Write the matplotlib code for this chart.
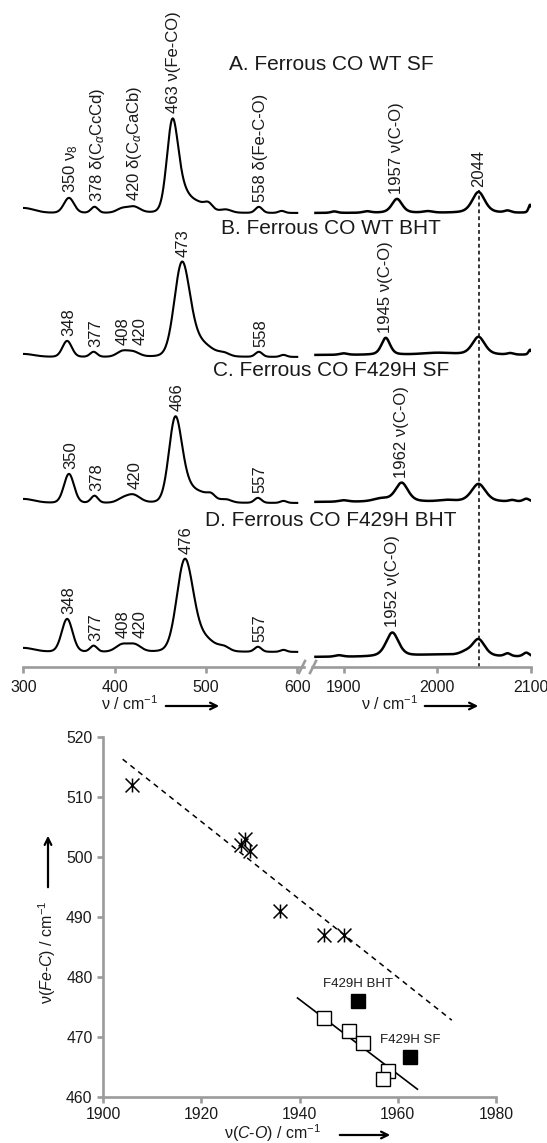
"""
Fe-CO resonance Raman spectra (A-D) and nu(Fe-C) vs nu(C-O) backbonding plot.
Produces: out.png
"""

import numpy as np
import matplotlib
matplotlib.use("Agg")
import matplotlib.pyplot as plt
from matplotlib.lines import Line2D
from matplotlib.patches import FancyArrowPatch
from matplotlib.path import Path

plt.rcParams['font.family'] = ['Liberation Sans', 'DejaVu Sans']
plt.rcParams['mathtext.fontset'] = 'custom'
plt.rcParams['mathtext.rm'] = 'Liberation Sans'
plt.rcParams['mathtext.it'] = 'Liberation Sans:italic'
plt.rcParams['mathtext.bf'] = 'Liberation Sans:bold'

W, H = 547, 1143
GREY = '#9b9b9b'
INK = '#1a1a1a'

# ---- bands: (centre / cm-1, height, fwhm) ----------------------------------
A_low = [(300, 5, 28), (350, 15, 13), (378, 6, 9), (408, 4, 14), (421, 6, 16),
         (463, 79, 14), (471, 22, 20), (490, 10, 28), (503, 5, 10),
         (522, 3, 14), (558, 6, 9), (583, 2, 8)]
B_low = [(300, 3, 28), (348, 16, 12), (377, 5, 9), (408, 5, 14), (420, 5, 16),
         (473, 80, 19), (481, 20, 22), (498, 10, 26), (520, 3, 14),
         (558, 5, 9), (585, 2, 8)]
C_low = [(300, 4, 28), (350, 29, 13), (378, 7, 9), (408, 3, 14), (420, 8, 18),
         (466, 72, 16), (474, 20, 22), (495, 9, 26), (506, 4, 10),
         (522, 3, 14), (557, 5, 9), (585, 2, 8)]
D_low = [(300, 4, 28), (348, 33, 14), (377, 6, 9), (408, 7, 16), (422, 7, 16),
         (476, 78, 20), (484, 20, 22), (501, 10, 24), (520, 4, 14),
         (557, 5, 9), (585, 2, 8)]

A_high = [(1890, 1.5, 8), (1925, 1.5, 10), (1957, 14, 13), (1990, 1.5, 12),
          (2044, 21, 16), (2075, 2, 8), (2099, 8, 4)]
B_high = [(1900, 1.5, 10), (1945, 17, 11), (2000, 2, 40), (2044, 18, 16),
          (2078, 1.5, 8), (2099, 5, 4)]
C_high = [(1900, 1.5, 12), (1940, 3, 20), (1962, 19, 16), (2010, 1.5, 20),
          (2044, 18, 18), (2080, 1.5, 8), (2095, 3, 8)]
D_high = [(1895, 1.5, 10), (1952, 24, 16), (2000, 2, 60), (2030, 3, 15),
          (2044, 17, 16), (2075, 3, 8), (2095, 4, 8)]

titles = ["A. Ferrous CO WT SF", "B. Ferrous CO WT BHT",
          "C. Ferrous CO F429H SF", "D. Ferrous CO F429H BHT"]

A_low_labels = [(350, "350 ν$_8$"), (379, "378 δ(C$_α$CcCd)"),
                (420, "420 δ(C$_α$CaCb)"), (463, "463 ν(Fe-CO)"),
                (558, "558 δ(Fe-C-O)")]
B_low_labels = [(348, "348"), (377, "377"), (408, "408"), (420, "420"),
                (473, "473"), (558, "558")]
C_low_labels = [(350, "350"), (378, "378"), (420, "420"), (466, "466"),
                (557, "557")]
D_low_labels = [(348, "348"), (377, "377"), (408, "408"), (420, "420"),
                (476, "476"), (557, "557")]
A_high_labels = [(1957, "1957 ν(C-O)"), (2044, "2044")]
B_high_labels = [(1945, "1945 ν(C-O)")]
C_high_labels = [(1962, "1962 ν(C-O)")]
D_high_labels = [(1952, "1952 ν(C-O)")]

# ---- correlation plot -----------------------------------------------------
star_co = [1906, 1928, 1929, 1930, 1936, 1945, 1949]
star_fec = [512, 502, 503, 501, 491, 487, 487]
open_co = [1945, 1950, 1953, 1958, 1957]
open_fec = [473.2, 471, 469, 464.3, 463]
f429h_co = [1952, 1962.5]
f429h_fec = [476, 466.7]
f429h_names = ["F429H BHT", "F429H SF"]
dash_fit_x = [1904, 1971]
dash_fit_y = [516.3, 472.8]
solid_fit_x = [1939.6, 1964]
solid_fit_y = [476.5, 461.3]


def fx(px):
    return px / W


def fy(py):
    return 1 - py / H


def trace(x, bands, eta):
    y = np.zeros_like(x)
    for c, h, w in bands:
        g = np.exp(-4 * np.log(2) * ((x - c) / w) ** 2)
        l = 1 / (1 + ((x - c) / (w / 2)) ** 2)
        y += h * ((1 - eta) * g + eta * l)
    return y


def style_bottom(ax):
    for s in ['left', 'right', 'top']:
        ax.spines[s].set_visible(False)
    ax.spines['bottom'].set_color(GREY)
    ax.spines['bottom'].set_linewidth(1.9)
    ax.set_yticks([])
    ax.patch.set_alpha(0)
    ax.tick_params(axis='x', direction='out', length=4, width=1.9, color=GREY,
                   labelsize=11.5, labelcolor=INK, pad=5)


fig = plt.figure(figsize=(W / 100, H / 100), dpi=100)

# top panel: two x ranges with an axis break; 1 y unit = 1 pixel
axL = fig.add_axes([fx(23.3), fy(667), fx(303.6) - fx(23.3), fy(5) - fy(667)])
axR = fig.add_axes([fx(311.7), fy(667), fx(531) - fx(311.7), fy(5) - fy(667)])
for ax in (axL, axR):
    style_bottom(ax)
    ax.set_ylim(0, 662)
axL.set_xlim(300, 607)
axL.set_xticks([300, 400, 500, 600])
axR.set_xlim(1866, 2100)
axR.set_xticks([1900, 2000, 2100])

xl = np.linspace(300, 600, 1200)
xr = np.linspace(1870, 2100, 1000)
offs_low = [454, 310, 164, 15]
offs_high = [454, 312, 165, 10]
lows = [A_low, B_low, C_low, D_low]
highs = [A_high, B_high, C_high, D_high]
low_labels = [A_low_labels, B_low_labels, C_low_labels, D_low_labels]
high_labels = [A_high_labels, B_high_labels, C_high_labels, D_high_labels]
title_y = [64, 229, 370, 520]

for i in range(4):
    yl = offs_low[i] + trace(xl, lows[i], 0.1)
    yr = offs_high[i] + trace(xr, highs[i], 0.45)
    axL.plot(xl, yl, color='black', lw=1.5)
    axR.plot(xr, yr, color='black', lw=1.8)

    for k, (pos, txt) in enumerate(low_labels[i]):
        near = np.abs(xl - pos) < 4
        top = yl[near].max()
        shift = 0
        others = [p for p, _ in low_labels[i] if p != pos and abs(p - pos) < 15]
        if others:
            shift = -1 if others[0] > pos else 6
        axL.text(pos + 2 + shift, top + 5, txt, rotation=90, ha='center',
                 va='bottom', fontsize=12, color=INK)
    for pos, txt in high_labels[i]:
        near = np.abs(xr - pos) < 4
        top = yr[near].max()
        axR.text(pos, top + 5, txt, rotation=90, ha='center', va='bottom',
                 fontsize=12, color=INK)

    fig.text(fx(331), fy(title_y[i]), titles[i], ha='center', va='center',
             fontsize=15, color=INK)

# dotted guide through the 2044 band of trace A
yA = offs_high[0] + trace(xr, A_high, 0.45)
axR.vlines(2044, 0, np.interp(2044, xr, yA) + 2, color='black', lw=1.1,
           linestyle=(0, (2.5, 2)))

# axis break marks
for bx in (302, 313):
    fig.add_artist(Line2D([fx(bx - 3), fx(bx + 3)], [fy(673), fy(661)],
                          color=GREY, lw=1.9))


def unit_label(cx, cy, x0, x1, txt, rot=0, vertical=False):
    fig.text(fx(cx), fy(cy), txt, ha='center', va='center', fontsize=11.5,
             rotation=rot, color=INK)
    if vertical:
        a = FancyArrowPatch((fx(x0[0]), fy(x0[1])), (fx(x1[0]), fy(x1[1])),
                            transform=fig.transFigure, arrowstyle='->',
                            mutation_scale=12, lw=1.6, color='black')
    else:
        a = FancyArrowPatch((fx(x0), fy(cy + 2)), (fx(x1), fy(cy + 2)),
                            transform=fig.transFigure, arrowstyle='->',
                            mutation_scale=12, lw=1.6, color='black')
    fig.add_artist(a)


unit_label(130, 704, 163, 222, "ν / cm$^{-1}$")
unit_label(390, 704, 422, 481, "ν / cm$^{-1}$")

# ---- bottom panel ---------------------------------------------------------
ax2 = fig.add_axes([fx(103), fy(1097), fx(496) - fx(103), fy(737) - fy(1097)])
ax2.set_xlim(1900, 1980)
ax2.set_ylim(460, 520)
ax2.set_xticks([1900, 1920, 1940, 1960, 1980])
ax2.set_yticks([460, 470, 480, 490, 500, 510, 520])
for s in ['right', 'top']:
    ax2.spines[s].set_visible(False)
for s in ['left', 'bottom']:
    ax2.spines[s].set_color(GREY)
    ax2.spines[s].set_linewidth(1.9)
ax2.tick_params(direction='out', length=4.5, width=1.9, color=GREY,
                labelsize=11.3, labelcolor=INK, pad=3)
ax2.patch.set_alpha(0)

star = Path([(0, -1), (0, 1), (-1, -1), (1, 1), (-1, 1), (1, -1)],
            [Path.MOVETO, Path.LINETO, Path.MOVETO, Path.LINETO,
             Path.MOVETO, Path.LINETO])

ax2.plot(dash_fit_x, dash_fit_y, color='black', lw=1.1, ls=(0, (3.5, 3)))
ax2.plot(solid_fit_x, solid_fit_y, color='black', lw=1.2)
ax2.plot(star_co, star_fec, ls='none', marker=star, ms=10, mew=1.1,
         color='black', clip_on=False)
ax2.plot(open_co, open_fec, ls='none', marker='s', ms=10.5, mew=1.0,
         mfc='white', mec='black')
ax2.plot(f429h_co, f429h_fec, ls='none', marker='s', ms=10.5, mew=1.0,
         mfc='black', mec='black')
for x, y, name in zip(f429h_co, f429h_fec, f429h_names):
    ax2.annotate(name, (x, y), xytext=(0, 8), textcoords='offset points',
                 ha='center', va='bottom', fontsize=9.5, color=INK)

unit_label(47, 952, (48, 890), (48, 833), "ν$\\mathit{(Fe}$-$\\mathit{C)}$ / cm$^{-1}$",
           rot=90, vertical=True)
unit_label(273, 1133, 337, 393, "ν$\\mathit{(C}$-$\\mathit{O)}$ / cm$^{-1}$")

fig.savefig("out.png", dpi=100)
